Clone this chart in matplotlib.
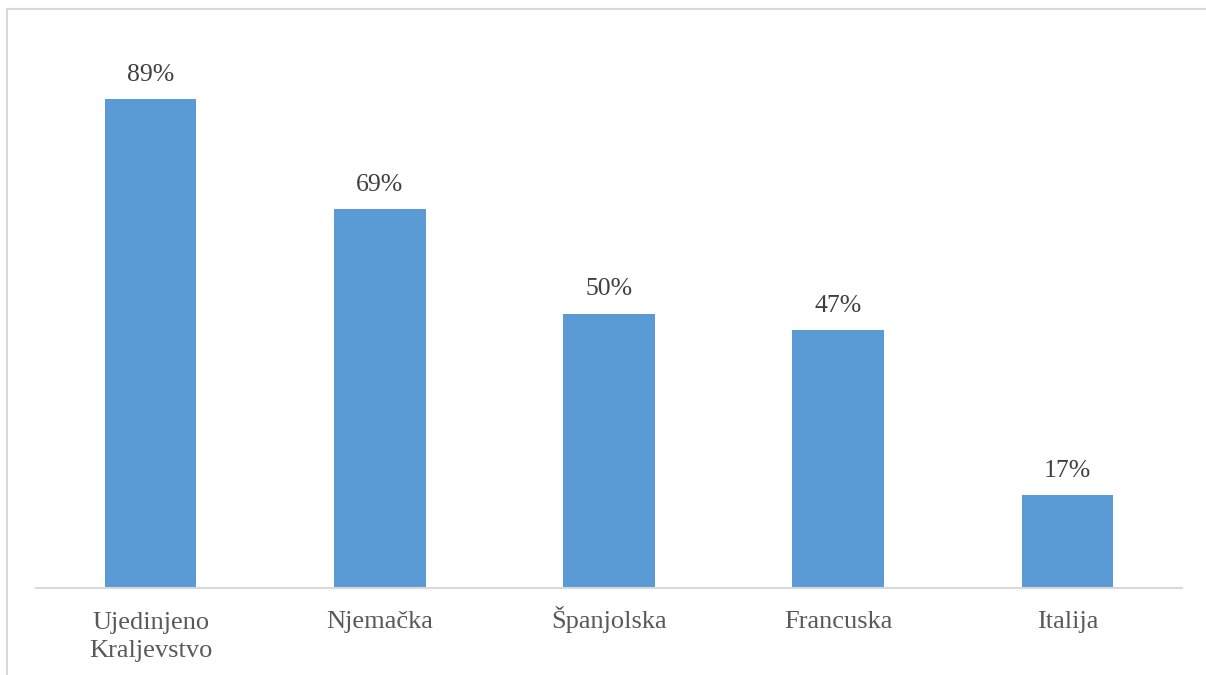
import matplotlib
matplotlib.use("Agg")
import matplotlib.pyplot as plt
from matplotlib.lines import Line2D

categories = ["Ujedinjeno\nKraljevstvo", "Njemačka", "Španjolska", "Francuska", "Italija"]
values = [89, 69, 50, 47, 17]
value_labels = ["89%", "69%", "50%", "47%", "17%"]

W, H = 1206, 675
fig = plt.figure(figsize=(W / 100, H / 100), dpi=100)
fig.patch.set_facecolor("white")

# axes: x from 36 to 1182 px, baseline at 588 px, top at 39 px
left, right, bottom, top = 36, 1182, 588, 39
ax = fig.add_axes([left / W, 1 - bottom / H, (right - left) / W, (bottom - top) / H])

x = list(range(len(categories)))
ax.bar(x, values, width=0.4, color="#5B9BD5", zorder=2)
ax.set_xlim(-0.5, len(categories) - 0.5)
ax.set_ylim(0, 100)

font = "Liberation Serif"
for xi, v, lab in zip(x, values, value_labels):
    ax.annotate(lab, (xi, v), xytext=(0, 13), textcoords="offset points",
                ha="center", va="baseline", fontsize=18.5, color="#404040", family=font)

# category labels: first-line baseline 40 px below the axis, 29 px line pitch
line_pitch_pt = 29 * 0.72
for xi, cat in zip(x, categories):
    nlines = cat.count("\n")
    ax.annotate(cat, xy=(xi, 0), xycoords=("data", "axes fraction"),
                xytext=(0, -29 - nlines * line_pitch_pt), textcoords="offset points",
                ha="center", va="baseline", multialignment="center",
                fontsize=19, color="#595959", family=font, linespacing=1.36)

ax.set_xticks([])
ax.set_yticks([])
for s in ["top", "right", "left"]:
    ax.spines[s].set_visible(False)
ax.spines["bottom"].set_color("#D9D9D9")
ax.spines["bottom"].set_linewidth(1.5)

# outer frame (cropped at right and bottom)
fig.add_artist(Line2D([7 / W, 1.0], [1 - 9 / H, 1 - 9 / H], transform=fig.transFigure,
                      color="#D9D9D9", linewidth=1.5))
fig.add_artist(Line2D([7 / W, 7 / W], [1 - 9 / H, 0], transform=fig.transFigure,
                      color="#D9D9D9", linewidth=1.5))

fig.savefig("out.png", dpi=100, facecolor="white")
